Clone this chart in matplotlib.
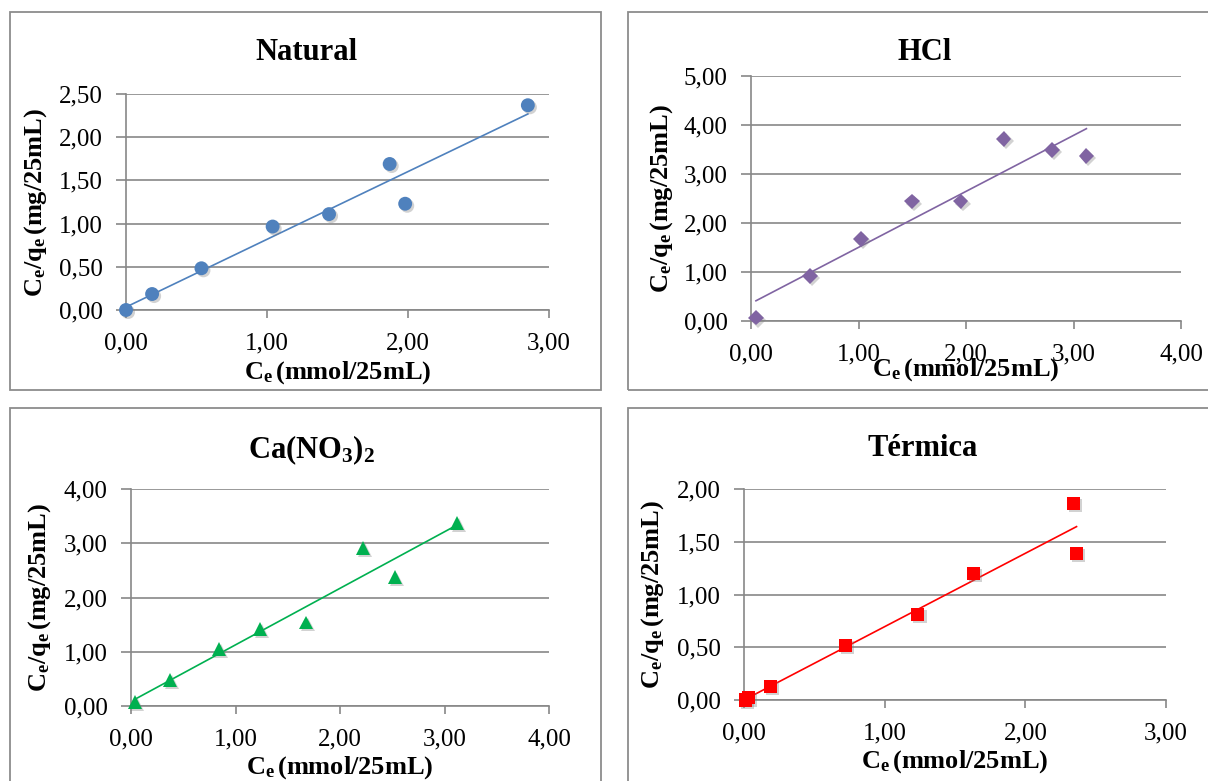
import numpy as np
import matplotlib
matplotlib.use("Agg")
import matplotlib.pyplot as plt
import matplotlib.patheffects as pe
from matplotlib.patches import Rectangle
from matplotlib.ticker import FuncFormatter, MultipleLocator

plt.rcParams["font.family"] = ["Liberation Serif", "DejaVu Serif"]
plt.rcParams["mathtext.fontset"] = "custom"
plt.rcParams["mathtext.rm"] = "Liberation Serif"
plt.rcParams["mathtext.bf"] = "Liberation Serif:bold"
plt.rcParams["mathtext.it"] = "Liberation Serif:italic"

# Linearised isotherm data, Ce (mmol/25mL) vs Ce/qe (mg/25mL)
natural_ce = [0.00, 0.185, 0.535, 1.04, 1.44, 1.87, 1.98, 2.85]
natural_ratio = [0.00, 0.185, 0.483, 0.966, 1.11, 1.69, 1.23, 2.37]

hcl_ce = [0.046, 0.552, 1.02, 1.50, 1.95, 2.35, 2.80, 3.12]
hcl_ratio = [0.07, 0.92, 1.68, 2.44, 2.44, 3.71, 3.49, 3.37]

canit_ce = [0.04, 0.374, 0.839, 1.234, 1.674, 2.223, 2.527, 3.121]
canit_ratio = [0.08, 0.48, 1.05, 1.42, 1.54, 2.91, 2.37, 3.37]

termica_ce = [0.01, 0.03, 0.19, 0.72, 1.236, 1.633, 2.342, 2.364]
termica_ratio = [0.00, 0.02, 0.13, 0.517, 0.81, 1.20, 1.86, 1.39]

titles = ["Natural", "HCl", r"$\mathbf{Ca(NO_3)_2}$", "Térmica"]

W, H = 1208, 781
GRID = "#878787"


def fig_rect(x0, y0, x1, y1):
    return [x0 / W, 1 - y1 / H, (x1 - x0) / W, (y1 - y0) / H]


def comma_fmt(v, _):
    return f"{v:.2f}".replace(".", ",")


panels = [
    dict(x=natural_ce, y=natural_ratio, color="#4F81BD", marker="o", ms=10,
         xmax=3, ymax=2.5, ystep=0.5, box=(126, 94, 549, 310),
         title_xy=(306, 52), ylab_x=36, xlab_y=373),
    dict(x=hcl_ce, y=hcl_ratio, color="#8064A2", marker="D", ms=8,
         xmax=4, ymax=5, ystep=1, box=(751, 76, 1181, 321),
         title_xy=(925, 52), ylab_x=662, xlab_y=370),
    dict(x=canit_ce, y=canit_ratio, color="#00B050", marker="^", ms=10,
         xmax=4, ymax=4, ystep=1, box=(131, 489, 549, 706),
         title_xy=(312, 450), ylab_x=40, xlab_y=768),
    dict(x=termica_ce, y=termica_ratio, color="#FF0000", marker="s", ms=9.5,
         xmax=3, ymax=2, ystep=0.5, box=(744, 489, 1166, 700),
         title_xy=(923, 448), ylab_x=653, xlab_y=762),
]

fig = plt.figure(figsize=(W / 100, H / 100), dpi=100)

# chart frames
for (x0, y0, x1, y1) in [(10, 12, 601, 390), (628, 12, 1215, 390),
                         (10, 408, 601, 790), (628, 408, 1215, 790)]:
    fig.patches.append(Rectangle((x0 / W, 1 - y1 / H), (x1 - x0) / W, (y1 - y0) / H,
                                 transform=fig.transFigure, fill=False,
                                 edgecolor="#8c8c8c", linewidth=1.3))

shadow = [pe.SimplePatchShadow(offset=(1.5, -1.5), shadow_rgbFace="#7f7f7f", alpha=0.35),
          pe.Normal()]

for p, title in zip(panels, titles):
    x0, y0, x1, y1 = p["box"]
    ax = fig.add_axes(fig_rect(x0, y0, x1, y1))
    x = np.array(p["x"])
    y = np.array(p["y"])

    slope, icpt = np.polyfit(x, y, 1)
    xs = np.array([x.min(), x.max()])
    ax.plot(xs, slope * xs + icpt, color=p["color"], lw=1.2, zorder=3)
    ax.plot(x, y, linestyle="none", marker=p["marker"], ms=p["ms"],
            color=p["color"], markeredgewidth=0, zorder=4, clip_on=False,
            path_effects=shadow)

    ax.set_xlim(0, p["xmax"])
    ax.set_ylim(0, p["ymax"])
    ax.xaxis.set_major_locator(MultipleLocator(1))
    ax.yaxis.set_major_locator(MultipleLocator(p["ystep"]))
    ax.xaxis.set_major_formatter(FuncFormatter(comma_fmt))
    ax.yaxis.set_major_formatter(FuncFormatter(comma_fmt))
    ax.grid(axis="y", color=GRID, lw=1.2)
    ax.set_axisbelow(True)
    for side in ("top", "right"):
        ax.spines[side].set_visible(False)
    for side in ("left", "bottom"):
        ax.spines[side].set_color(GRID)
        ax.spines[side].set_linewidth(1.2)
    ax.tick_params(axis="both", direction="out", width=1.2, color=GRID,
                   labelsize=18)
    ax.tick_params(axis="x", length=6, pad=10)
    ax.tick_params(axis="y", length=7, pad=10)

    ax.set_xlabel(r"$\mathbf{C_e\,(mmol/25mL)}$", fontsize=19)
    ax.set_ylabel(r"$\mathbf{C_e/q_e\,(mg/25mL)}$", fontsize=19)
    ax.xaxis.set_label_coords(0.5, -(p["xlab_y"] - y1) / (y1 - y0))
    ax.yaxis.set_label_coords(-(x0 - p["ylab_x"]) / (x1 - x0), 0.5)
    ax.xaxis.label.set_va("center")
    ax.yaxis.label.set_va("center")

    tx, ty = p["title_xy"]
    fig.text(tx / W, 1 - ty / H, title, ha="center", va="center",
             fontsize=22, fontweight="bold")

fig.savefig("out.png", dpi=100)
